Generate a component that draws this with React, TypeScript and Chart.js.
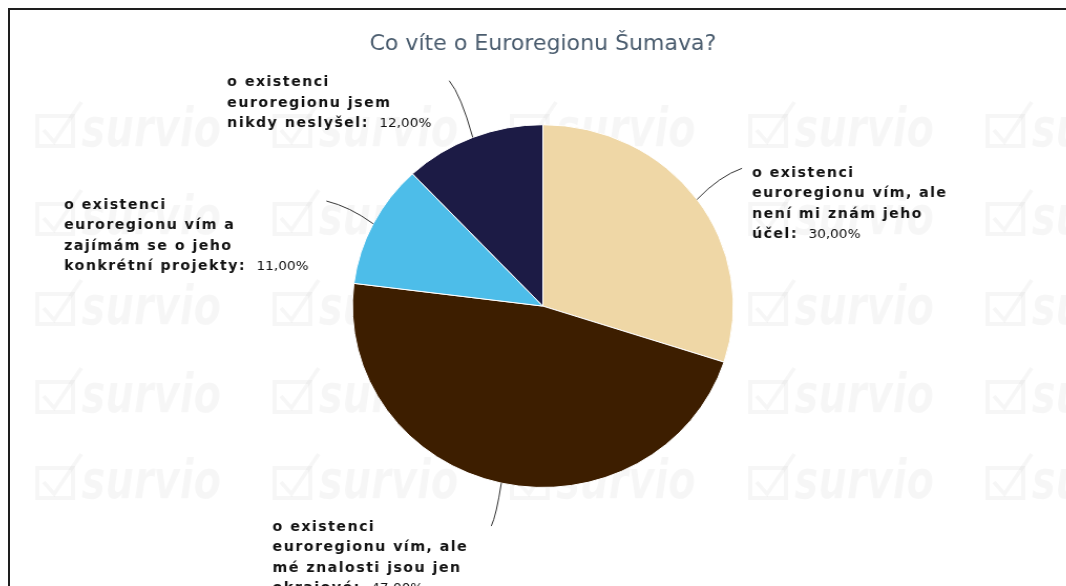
import React, { useEffect, useRef } from "react";
import { Chart, registerables } from "chart.js";

Chart.register(...registerables);

// ---- data ----
const titleText = "Co víte o Euroregionu Šumava?";
const categories = [
  "o existenci euroregionu vím, ale není mi znám jeho účel",
  "o existenci euroregionu vím, ale mé znalosti jsou jen okrajové",
  "o existenci euroregionu vím a zajímám se o jeho konkrétní projekty",
  "o existenci euroregionu jsem nikdy neslyšel",
];
const labelLines = [
  ["o existenci", "euroregionu vím, ale", "není mi znám jeho", "účel:"],
  ["o existenci", "euroregionu vím, ale", "mé znalosti jsou jen", "okrajové:"],
  ["o existenci", "euroregionu vím a", "zajímám se o jeho", "konkrétní projekty:"],
  ["o existenci", "euroregionu jsem", "nikdy neslyšel:"],
];
const values = [30, 47, 11, 12];
const colors = ["#efd7a6", "#3d1e00", "#4dbde9", "#1c1b45"];

// ---- layout / style ----
const CANVAS_W = 1015;
const CANVAS_H = 576;
const STRETCH_X = 1.05;
const connectorLength = [53, 44, 50, 61];
const labelDy = [5, 1, 4, 2];
const labelGap = [9.5, 22, 17, 17];
const LINE_H = 20.5;
const FONT = "'DejaVu Sans', sans-serif";
const wmCols = [24, 250, 476, 703, 929];
const wmRows = [120, 208, 298, 386, 472];

const fmtPct = (v: number) => v.toFixed(2).replace(".", ",") + "%";

const watermarkPlugin = {
  id: "watermark",
  beforeDraw(chart: any) {
    const ctx = chart.ctx as CanvasRenderingContext2D;
    ctx.save();
    ctx.fillStyle = "rgba(0,0,0,0.035)";
    ctx.strokeStyle = "rgba(0,0,0,0.035)";
    ctx.lineWidth = 4;
    ctx.textBaseline = "middle";
    ctx.font = `italic bold 54px ${FONT}`;
    for (const cx of wmCols) {
      for (const cy of wmRows) {
        ctx.strokeRect(cx + 2, cy - 14, 34, 30);
        ctx.beginPath();
        ctx.moveTo(cx + 8, cy);
        ctx.lineTo(cx + 18, cy + 12);
        ctx.lineTo(cx + 44, cy - 28);
        ctx.stroke();
        ctx.fillText("survio", cx + 44, cy + 2, 133);
      }
    }
    ctx.restore();
  },
};

const labelPlugin = {
  id: "pieLabels",
  afterDatasetsDraw(chart: any) {
    const ctx = chart.ctx as CanvasRenderingContext2D;
    const meta = chart.getDatasetMeta(0);
    meta.data.forEach((arc: any, i: number) => {
      const { x, y, startAngle, endAngle, outerRadius } = arc.getProps(
        ["x", "y", "startAngle", "endAngle", "outerRadius"],
        true
      );
      const a = (startAngle + endAngle) / 2;
      const cos = Math.cos(a);
      const sin = Math.sin(a);
      const ex = x + outerRadius * cos;
      const ey = y + outerRadius * sin;
      const d = connectorLength[i];
      const tx = x + (outerRadius + d) * cos;
      const ty = y + (outerRadius + d) * sin;

      ctx.save();
      ctx.strokeStyle = "#333333";
      ctx.lineWidth = 1;
      ctx.beginPath();
      ctx.moveTo(tx, ty);
      ctx.quadraticCurveTo(tx + (ex - tx) * 0.5, ty + (ey - ty) * 0.25, ex, ey);
      ctx.stroke();

      const lines = labelLines[i];
      const pct = fmtPct(values[i]);
      const boldFont = `bold 13.5px ${FONT}`;
      const normFont = `13px ${FONT}`;
      const ls = "1.4px";
      (ctx as any).letterSpacing = ls;
      ctx.font = boldFont;
      const widths = lines.map((l) => ctx.measureText(l).width);
      (ctx as any).letterSpacing = "0px";
      ctx.font = normFont;
      const pctW = ctx.measureText(pct).width;
      const gap = 10;
      const lastW = widths[widths.length - 1] + gap + pctW;
      const blockW = Math.max(...widths.slice(0, -1), lastW);
      const left = cos >= 0 ? tx + labelGap[i] : tx - labelGap[i] - blockW;

      ctx.fillStyle = "#111111";
      ctx.textBaseline = "middle";
      ctx.textAlign = "left";
      lines.forEach((ln, k) => {
        const yy = ty + labelDy[i] + k * LINE_H;
        (ctx as any).letterSpacing = ls;
        ctx.font = boldFont;
        ctx.fillText(ln, left, yy);
        if (k === lines.length - 1) {
          (ctx as any).letterSpacing = "0px";
          ctx.font = normFont;
          ctx.fillText(pct, left + widths[k] + gap, yy);
        }
      });
      ctx.restore();
    });
  },
};

export default function App() {
  const ref = useRef<HTMLCanvasElement | null>(null);
  useEffect(() => {
    if (!ref.current) return;
    const chart = new Chart(ref.current, {
      type: "pie",
      data: {
        labels: categories,
        datasets: [
          {
            data: values,
            backgroundColor: colors,
            borderColor: "#ffffff",
            borderWidth: 1,
            hoverOffset: 0,
            offset: 0,
          },
        ],
      },
      options: {
        responsive: false,
        animation: false,
        devicePixelRatio: 1,
        events: [],
        layout: { padding: { top: 0, bottom: 98, left: 0, right: 0 } },
        plugins: {
          legend: { display: false },
          tooltip: { enabled: false },
          title: {
            display: true,
            text: titleText,
            color: "#4a5c6e",
            font: { family: FONT, size: 21, weight: "normal", lineHeight: 1.2 },
            padding: { top: 22, bottom: 67 },
          },
        },
      },
      plugins: [watermarkPlugin, labelPlugin],
    });
    return () => chart.destroy();
  }, []);

  return (
    <div
      style={{
        position: "fixed",
        left: 8,
        top: 8,
        width: 1058,
        height: 578,
        borderTop: "2px solid #1e1e1e",
        borderLeft: "2px solid #1e1e1e",
        overflow: "hidden",
        background: "#ffffff",
      }}
    >
      <div style={{ transform: `scaleX(${STRETCH_X})`, transformOrigin: "0 0", width: CANVAS_W, height: CANVAS_H }}>
        <canvas
          ref={ref}
          width={CANVAS_W}
          height={CANVAS_H}
          style={{ width: CANVAS_W, height: CANVAS_H, display: "block" }}
        />
      </div>
    </div>
  );
}
